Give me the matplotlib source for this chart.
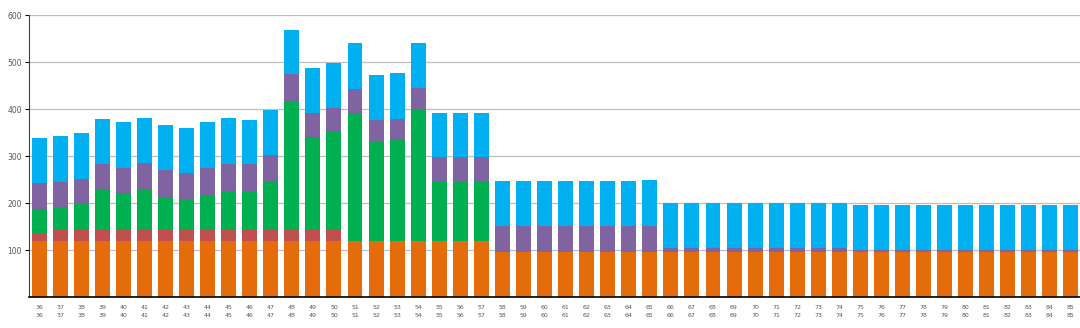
import numpy as np
import matplotlib
matplotlib.use("Agg")
from matplotlib import pyplot as plt

# categories 36..85
cats = [str(c) for c in range(36, 86)]

# stacked values (bottom -> top)
orange = [120] * 22 + [95] * 8 + [96] * 9 + [96] * 11
red = [17] + [23] * 14 + [0] * 35
green = [51, 48, 55, 86, 78, 86, 70, 65, 74, 83, 81, 102, 274, 197, 210,
         272, 210, 214, 279, 125, 125, 125] + [0] * 28
purple = [54, 54, 54, 54, 54, 56, 57, 56, 58, 58, 59, 58, 57, 52, 50,
          51, 47, 45, 45, 52, 52, 52] + [57] * 8 + [8] * 9 + [3] * 11
blue = [97, 97, 97, 96, 97, 97, 96, 96, 97, 97, 94, 96, 95, 96, 96,
        97, 96, 97, 96, 95, 95, 95] + [94] * 7 + [98] + [96] * 9 + [96] * 11

colors = ["#E46C0A", "#C0504D", "#00B050", "#8064A2", "#00B0F0"]
series = [orange, red, green, purple, blue]

fig = plt.figure(figsize=(10.8, 3.28), dpi=100)
ax = fig.add_axes([0.0269, 0.0945, 0.9731, 0.8595])

x = np.arange(len(cats))
bottom = np.zeros(len(cats))
for vals, col in zip(series, colors):
    ax.bar(x, vals, width=0.71, bottom=bottom, color=col, zorder=2)
    bottom += np.array(vals)

ax.set_ylim(0, 600)
ax.set_xlim(-0.48, 49.43)
ax.set_yticks([100, 200, 300, 400, 500, 600])
ax.yaxis.grid(True, color="#BFBFBF", linewidth=0.9, zorder=0)
ax.set_xticks(x)
ax.set_xticklabels([c + "\n" + c for c in cats], fontsize=4.5, color="#595959",
                   linespacing=1.6)
ax.tick_params(axis="x", length=0, pad=6)
ax.tick_params(axis="y", length=3, width=0.8, labelsize=5.5, labelcolor="#595959",
               pad=2)

for s in ["top", "right"]:
    ax.spines[s].set_visible(False)
ax.spines["left"].set_color("#404040")
ax.spines["bottom"].set_color("#000000")
ax.spines["bottom"].set_linewidth(1.2)

fig.savefig("out.png", dpi=100)
